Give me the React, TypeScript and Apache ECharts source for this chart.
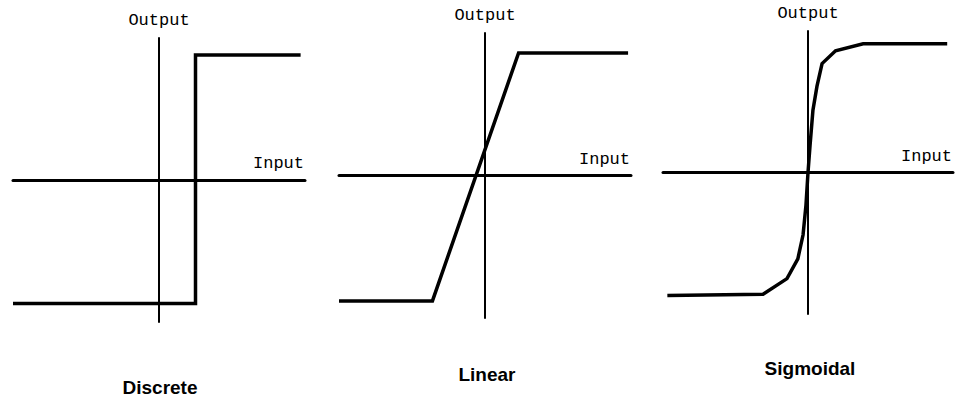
import React, { useEffect, useRef } from "react";
import * as echarts from "echarts";

const panelTitles = ["Discrete", "Linear", "Sigmoidal"];
const xAxisName = "Input";
const yAxisName = "Output";

// Each series: [input, output] in axis units (-1..1)
const discreteData: [number, number][] = [
  [-1, -0.87],
  [0.25, -0.87],
  [0.25, 0.88],
  [0.97, 0.88],
];
const linearData: [number, number][] = [
  [-1, -0.88],
  [-0.36, -0.88],
  [0.23, 0.86],
  [0.98, 0.86],
];
const sigmoidalData: [number, number][] = [
  [-0.97, -0.87],
  [-0.31, -0.86],
  [-0.145, -0.75],
  [-0.07, -0.61],
  [-0.034, -0.44],
  [-0.014, -0.23],
  [0, 0],
  [0.014, 0.19],
  [0.034, 0.44],
  [0.062, 0.61],
  [0.097, 0.77],
  [0.19, 0.86],
  [0.38, 0.91],
  [0.96, 0.91],
];

const grids = [
  { left: 13, top: 38, width: 292, height: 284 },
  { left: 339, top: 33, width: 292, height: 285 },
  { left: 663, top: 31, width: 290, height: 283 },
];
const titlePos = [
  { x: 160, y: 387 },
  { x: 487, y: 374 },
  { x: 810, y: 368 },
];

export default function App() {
  const ref = useRef<HTMLDivElement>(null);
  useEffect(() => {
    document.body.style.margin = "0";
    if (!ref.current) return;
    const chart = echarts.init(ref.current, null, { renderer: "svg" });
    const datasets = [discreteData, linearData, sigmoidalData];
    const mono = "'Liberation Mono', 'DejaVu Sans Mono', monospace";
    chart.setOption({
      animation: false,
      backgroundColor: "#ffffff",
      grid: grids.map((g) => ({ ...g, containLabel: false })),
      xAxis: grids.map((_, i) => ({
        type: "value",
        gridIndex: i,
        min: -1,
        max: 1,
        name: xAxisName,
        nameLocation: "end",
        nameGap: -1,
        nameTextStyle: {
          fontFamily: mono,
          fontSize: 17,
          color: "#000",
          align: "right",
          verticalAlign: "bottom",
          padding: [0, 0, 8, 0],
        },
        axisLine: { show: true, onZero: true, lineStyle: { color: "#000", width: 3 } },
        axisTick: { show: false },
        axisLabel: { show: false },
        splitLine: { show: false },
      })),
      yAxis: grids.map((_, i) => ({
        type: "value",
        gridIndex: i,
        min: -1,
        max: 1,
        name: yAxisName,
        nameLocation: "end",
        nameGap: 9,
        nameTextStyle: {
          fontFamily: mono,
          fontSize: 17,
          color: "#000",
          align: "center",
          verticalAlign: "bottom",
        },
        axisLine: { show: true, onZero: true, lineStyle: { color: "#000", width: 2 } },
        axisTick: { show: false },
        axisLabel: { show: false },
        splitLine: { show: false },
      })),
      series: datasets.map((d, i) => ({
        type: "line",
        xAxisIndex: i,
        yAxisIndex: i,
        data: d,
        showSymbol: false,
        symbol: "none",
        lineStyle: { color: "#000", width: 3.5, join: "miter" },
        z: 1,
      })),
      graphic: panelTitles.map((t, i) => ({
        type: "text",
        x: titlePos[i].x,
        y: titlePos[i].y,
        style: {
          text: t,
          fill: "#000",
          font: "bold 19px 'Liberation Sans', Arial, sans-serif",
          align: "center",
          verticalAlign: "middle",
        },
      })),
    });
    return () => chart.dispose();
  }, []);
  return <div ref={ref} style={{ width: 959, height: 404 }} />;
}
